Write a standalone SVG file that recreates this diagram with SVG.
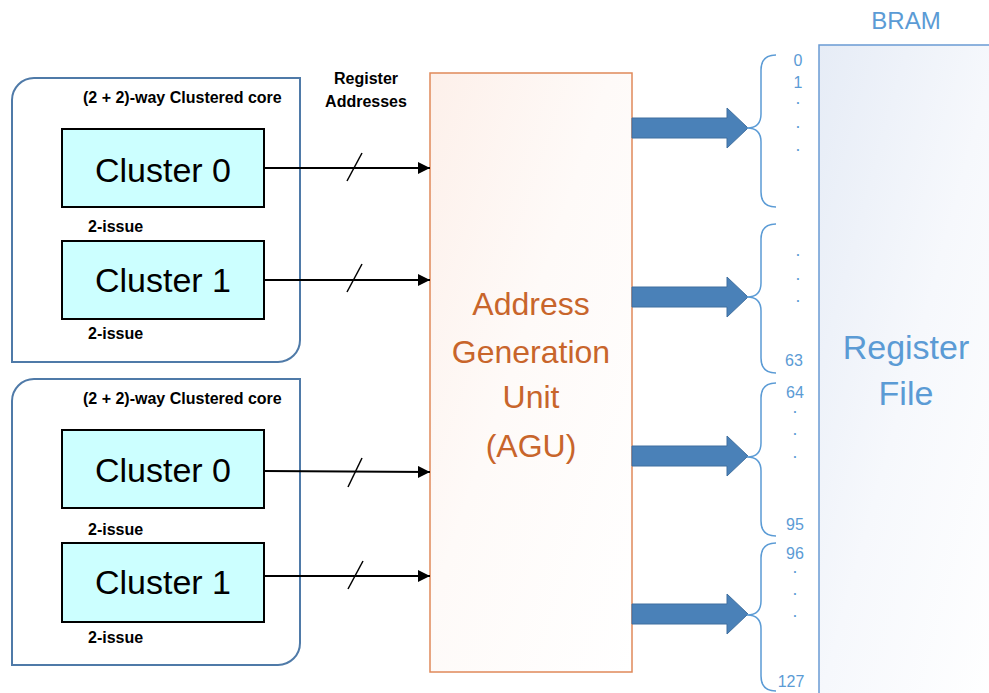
<svg xmlns="http://www.w3.org/2000/svg" width="989" height="693" viewBox="0 0 989 693">
<defs>
<linearGradient id="aguFill" x1="0" y1="0" x2="1" y2="1">
<stop offset="0" stop-color="#fdf0ea"/>
<stop offset="0.45" stop-color="#fefaf8"/>
<stop offset="1" stop-color="#ffffff"/>
</linearGradient>
<linearGradient id="bramFill" x1="0" y1="0" x2="1" y2="1">
<stop offset="0" stop-color="#e6ecf6"/>
<stop offset="0.5" stop-color="#f6f8fc"/>
<stop offset="1" stop-color="#ffffff"/>
</linearGradient>
<marker id="ah" viewBox="0 0 12 12" refX="12" refY="6" markerWidth="12" markerHeight="12" markerUnits="userSpaceOnUse" orient="auto">
<path d="M0,0 L12,6 L0,12 Z" fill="#000"/>
</marker>
</defs>
<style>
.core{fill:#fff;stroke:#4f7aa8;stroke-width:2}
.cl{fill:#ccffff;stroke:#000;stroke-width:2}
.clt{font-family:"Liberation Sans",Arial,sans-serif;font-size:34px;fill:#000;text-anchor:middle}
.lbl{font-family:"Liberation Sans",Arial,sans-serif;font-size:16px;font-weight:bold;fill:#000}
.conn{stroke:#000;stroke-width:2;fill:none}
.slash{stroke:#000;stroke-width:1.5;fill:none}
.big{fill:#4a81b8;stroke:#3f6f9f;stroke-width:1}
.brace{fill:none;stroke:#5b9bd5;stroke-width:1.5}
.num{font-family:"Liberation Sans",Arial,sans-serif;font-size:16px;fill:#5b9bd5;text-anchor:middle}
.dot{font-family:"Liberation Sans",Arial,sans-serif;font-size:12px;font-weight:bold;fill:#5b9bd5;text-anchor:middle}
.agut{font-family:"Liberation Sans",Arial,sans-serif;font-size:32px;fill:#c8652b;text-anchor:middle}
.bt{font-family:"Liberation Sans",Arial,sans-serif;fill:#5b9bd5;text-anchor:middle}
</style>

<g id="bram">
<rect x="819" y="45" width="180" height="660" fill="url(#bramFill)" stroke="#6a9bd3" stroke-width="1.5"/>
<text class="bt" x="906" y="29" font-size="24">BRAM</text>
<text class="bt" x="906" y="359" font-size="34">Register</text>
<text class="bt" x="906" y="405" font-size="34">File</text>
</g>

<g id="core1">
<path class="core" d="M12,362 L12,100 A22,22 0 0 1 34,78 L300,78 L300,340 A22,22 0 0 1 278,362 Z"/>
<text class="lbl" x="83" y="103">(2 + 2)-way Clustered core</text>
<g id="c1cluster0">
<rect class="cl" x="62" y="129" width="202" height="78"/>
<text class="clt" x="163" y="182">Cluster 0</text>
</g>
<text class="lbl" x="88" y="232">2-issue</text>
<g id="c1cluster1">
<rect class="cl" x="62" y="241" width="202" height="78"/>
<text class="clt" x="163" y="292">Cluster 1</text>
</g>
<text class="lbl" x="88" y="339">2-issue</text>
</g>

<g id="core2">
<path class="core" d="M12,665 L12,401 A22,22 0 0 1 34,379 L300,379 L300,643 A22,22 0 0 1 278,665 Z"/>
<text class="lbl" x="83" y="404">(2 + 2)-way Clustered core</text>
<g id="c2cluster0">
<rect class="cl" x="62" y="430" width="202" height="78"/>
<text class="clt" x="163" y="482">Cluster 0</text>
</g>
<text class="lbl" x="88" y="535">2-issue</text>
<g id="c2cluster1">
<rect class="cl" x="62" y="543" width="202" height="79"/>
<text class="clt" x="163" y="594">Cluster 1</text>
</g>
<text class="lbl" x="88" y="643">2-issue</text>
</g>

<g id="reglabel">
<text class="lbl" x="366" y="84" text-anchor="middle">Register</text>
<text class="lbl" x="366" y="107" text-anchor="middle">Addresses</text>
</g>

<g id="agu">
<rect x="430" y="73" width="202" height="599" fill="url(#aguFill)" stroke="#e0895a" stroke-width="1.5"/>
<text class="agut" x="531" y="315">Address</text>
<text class="agut" x="531" y="363">Generation</text>
<text class="agut" x="531" y="408">Unit</text>
<text class="agut" x="531" y="457">(AGU)</text>
</g>

<g id="connectors">
<line class="conn" x1="264" y1="168" x2="430" y2="168" marker-end="url(#ah)"/>
<line class="slash" x1="347" y1="181" x2="362" y2="153"/>
<line class="conn" x1="264" y1="280" x2="430" y2="280" marker-end="url(#ah)"/>
<line class="slash" x1="347" y1="292" x2="362" y2="264"/>
<line class="conn" x1="264" y1="471" x2="430" y2="472" marker-end="url(#ah)"/>
<line class="slash" x1="348" y1="487" x2="362" y2="458"/>
<line class="conn" x1="264" y1="576" x2="430" y2="576" marker-end="url(#ah)"/>
<line class="slash" x1="348" y1="589" x2="363" y2="561"/>

<path class="big" d="M632,118 L727,118 L727,108 L748,128 L727,148 L727,138 L632,138 Z"/>
<path class="big" d="M632,287 L727,287 L727,277 L748,297 L727,317 L727,307 L632,307 Z"/>
<path class="big" d="M632,446 L727,446 L727,436 L748,456 L727,476 L727,466 L632,466 Z"/>
<path class="big" d="M632,604 L727,604 L727,594 L748,614 L727,634 L727,624 L632,624 Z"/>
</g>

<g id="braces">
<path class="brace" d="M776,55 Q761,55 761,70 L761,114 Q761,128 747,128 Q761,128 761,142 L761,192 Q761,207 776,207"/>
<path class="brace" d="M776,224 Q761,224 761,239 L761,283 Q761,297 747,297 Q761,297 761,311 L761,358 Q761,373 776,373"/>
<path class="brace" d="M776,383 Q761,383 761,398 L761,443 Q761,457 747,457 Q761,457 761,471 L761,521 Q761,536 776,536"/>
<path class="brace" d="M776,543 Q761,543 761,558 L761,601 Q761,615 747,615 Q761,615 761,629 L761,676 Q761,691 776,691"/>
</g>

<g id="indices">
<text class="num" x="798" y="66">0</text>
<text class="num" x="798" y="88">1</text>
<text class="dot" x="798" y="104">.</text>
<text class="dot" x="798" y="128">.</text>
<text class="dot" x="798" y="151">.</text>
<text class="dot" x="798" y="256">.</text>
<text class="dot" x="798" y="280">.</text>
<text class="dot" x="798" y="302">.</text>
<text class="num" x="794" y="366">63</text>
<text class="num" x="795" y="398">64</text>
<text class="dot" x="795" y="413">.</text>
<text class="dot" x="795" y="435">.</text>
<text class="dot" x="795" y="458">.</text>
<text class="num" x="795" y="530">95</text>
<text class="num" x="795" y="559">96</text>
<text class="dot" x="795" y="573">.</text>
<text class="dot" x="795" y="595">.</text>
<text class="dot" x="795" y="617">.</text>
<text class="num" x="791" y="687">127</text>
</g>
</svg>
